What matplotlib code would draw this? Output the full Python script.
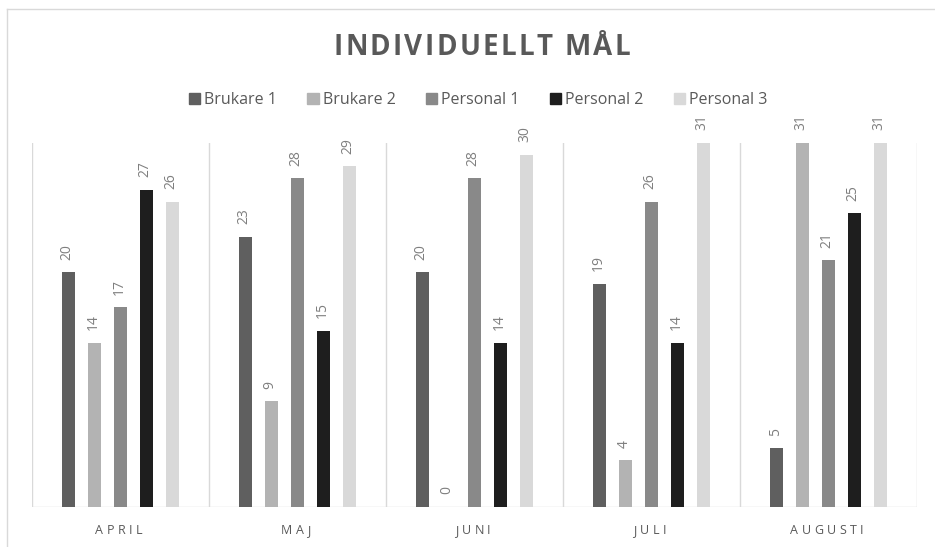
import matplotlib.pyplot as plt
from matplotlib.patches import Rectangle
from matplotlib.lines import Line2D
import numpy as np

plt.rcParams['font.family'] = ['Open Sans', 'DejaVu Sans']

# Data
months = ['APRIL', 'MAJ', 'JUNI', 'JULI', 'AUGUSTI']
series = ['Brukare 1', 'Brukare 2', 'Personal 1', 'Personal 2', 'Personal 3']
brukare1 = [20, 23, 20, 19, 5]
brukare2 = [14, 9, 0, 4, 31]
personal1 = [17, 28, 28, 26, 21]
personal2 = [27, 15, 14, 14, 25]
personal3 = [26, 29, 30, 31, 31]
values = [brukare1, brukare2, personal1, personal2, personal3]
colors = ['#5f5f5f', '#b3b3b3', '#898989', '#1e1e1e', '#d9d9d9']

W, H = 935, 547
fig = plt.figure(figsize=(W / 100, H / 100), dpi=100)
renderer = fig.canvas.get_renderer()

# outer chart frame (only top and left visible)
fig.add_artist(Line2D([7 / W, 1], [1 - 9 / H, 1 - 9 / H], transform=fig.transFigure, color='#d9d9d9', lw=1))
fig.add_artist(Line2D([7 / W, 7 / W], [0, 1 - 9 / H], transform=fig.transFigure, color='#d9d9d9', lw=1))

left, right, bottom, top = 32, 917, 507, 143
ax = fig.add_axes([left / W, 1 - bottom / H, (right - left) / W, (bottom - top) / H])
ax.set_xlim(-0.5, 4.5)
ax.set_ylim(0, 31)
for s in ax.spines.values():
    s.set_visible(False)
ax.set_xticks([])
ax.set_yticks([])

# category separators and baseline
for b in np.arange(-0.5, 5, 1):
    ax.axvline(b, color='#d9d9d9', lw=1, zorder=0)
ax.axhline(0, color='#d9d9d9', lw=1, zorder=0)

x = np.arange(len(months))
pitch = 0.147
width = 0.077
for i, (vals, c) in enumerate(zip(values, colors)):
    pos = x + (i - 2) * pitch
    ax.bar(pos, vals, width=width, color=c, zorder=2)
    for px, v in zip(pos, vals):
        ax.annotate(str(v), (px, v), xytext=(-1, 9), textcoords='offset points',
                    rotation=90, ha='center', va='bottom', fontsize=10,
                    color='#7f7f7f', annotation_clip=False)


def spaced(xc, yc, s, spacing, **kw):
    # draw text letter by letter with extra tracking, centered at xc (pixels)
    widths = []
    for ch in s:
        t = fig.text(0, 0, ch, **kw)
        widths.append(t.get_window_extent(renderer).width)
        t.remove()
    total = sum(widths) + spacing * len(s)
    cur = xc - total / 2
    for ch, w in zip(s, widths):
        fig.text(cur / W, 1 - yc / H, ch, ha='left', va='center', **kw)
        cur += w + spacing


spaced(483, 48, 'INDIVIDUELLT MÅL', 2.3, fontsize=20, fontweight='bold', color='#595959')

for i, m in enumerate(months):
    xc = left + (i + 0.5) * (right - left) / 5
    spaced(xc, 531, m, 3.5, fontsize=9, color='#595959')

# legend
handles = [Rectangle((0, 0), 1, 1, color=c) for c in colors]
fig.legend(handles, series, loc='center', bbox_to_anchor=(478 / W, 1 - 100 / H),
           ncol=5, frameon=False, fontsize=11.5, handlelength=0.7, handleheight=0.7,
           handletextpad=0.25, columnspacing=1.9, labelcolor='#595959')

fig.savefig('out.png', dpi=100)
